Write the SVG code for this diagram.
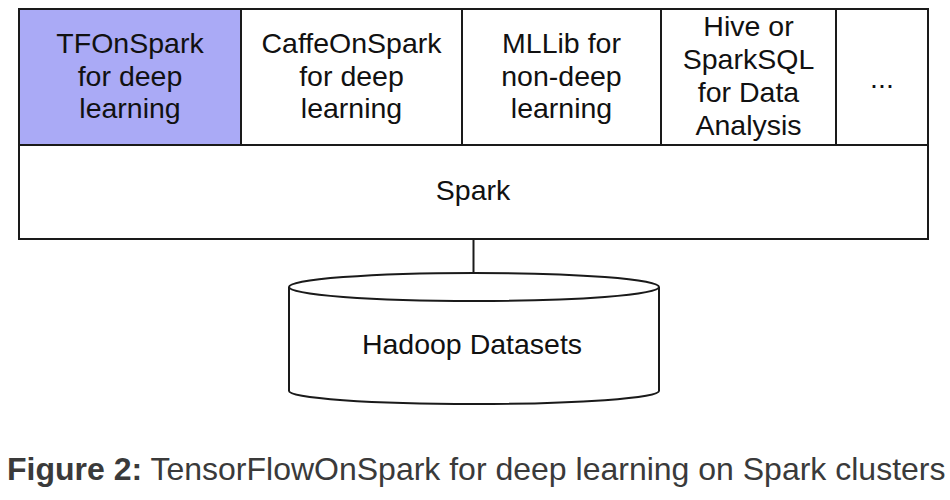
<svg xmlns="http://www.w3.org/2000/svg" width="950" height="500" viewBox="0 0 950 500">
<style>
.box{fill:#fff;stroke:#1a1a1a;stroke-width:2}
.hl{fill:#aaaaf6}
.t{font-family:"Liberation Sans",Arial,sans-serif;font-size:28.5px;fill:#111;text-anchor:middle}
.cap{font-family:"Liberation Sans",Arial,sans-serif;font-size:32px;fill:#3a3a3a}
.line{stroke:#1a1a1a;stroke-width:2;fill:none}
</style>
<rect width="950" height="500" fill="#fff"/>
<g id="tfonspark">
<rect class="box hl" x="19" y="9" width="222" height="136"/>
<text class="t" x="130" y="53">TFOnSpark</text>
<text class="t" x="130" y="86">for deep</text>
<text class="t" x="130" y="118">learning</text>
</g>
<g id="caffeonspark">
<rect class="box" x="241" y="9" width="221" height="136"/>
<text class="t" x="351.5" y="53">CaffeOnSpark</text>
<text class="t" x="351.5" y="86">for deep</text>
<text class="t" x="351.5" y="118">learning</text>
</g>
<g id="mllib">
<rect class="box" x="462" y="9" width="199" height="136"/>
<text class="t" x="561.5" y="53">MLLib for</text>
<text class="t" x="561.5" y="86">non-deep</text>
<text class="t" x="561.5" y="118">learning</text>
</g>
<g id="hive">
<rect class="box" x="661" y="9" width="175" height="136"/>
<text class="t" x="748.5" y="36">Hive or</text>
<text class="t" x="748.5" y="69">SparkSQL</text>
<text class="t" x="748.5" y="102">for Data</text>
<text class="t" x="748.5" y="135">Analysis</text>
</g>
<g id="more">
<rect class="box" x="836" y="9" width="92" height="136"/>
<text class="t" x="882" y="88">...</text>
</g>
<g id="spark">
<rect class="box" x="19" y="145" width="909" height="94"/>
<text class="t" x="473" y="200">Spark</text>
</g>
<g id="connectors">
<line class="line" x1="473.5" y1="239" x2="473.5" y2="273"/>
</g>
<g id="hadoop">
<path class="box" d="M289,287 L289,391 A185,13 0 0 0 659,391 L659,287"/>
<ellipse class="box" cx="474" cy="287" rx="185" ry="14"/>
<text class="t" x="472" y="354">Hadoop Datasets</text>
</g>
<text class="cap" x="7" y="480"><tspan font-weight="bold">Figure 2:</tspan> TensorFlowOnSpark for deep learning on Spark clusters</text>
</svg>
